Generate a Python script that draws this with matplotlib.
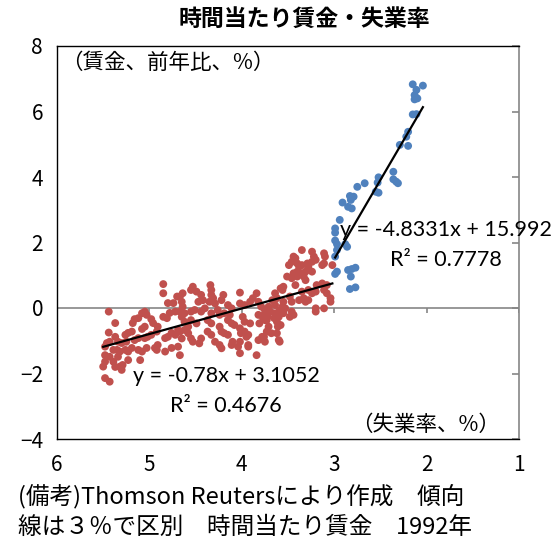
import matplotlib
matplotlib.use("Agg")
import numpy as np
import matplotlib.pyplot as plt

plt.rcParams['font.family'] = ['Noto Sans CJK JP', 'DejaVu Sans']

# unemployment rate (%) / hourly wage growth (% y/y)
# red: unemployment >= 3%
red_u1 = [4.85, 4.85, 4.70, 5.44, 5.05, 5.08, 5.03, 5.12, 5.16, 5.37, 5.18, 4.98, 4.96,
          4.85, 4.81, 4.78, 4.74, 4.80, 4.72, 4.91, 4.92, 5.05, 5.08, 5.19, 5.23, 5.26,
          5.44, 5.43, 5.46, 5.48, 5.37, 5.34, 5.30, 5.25, 5.16, 5.12, 5.05, 5.02, 4.98,
          4.83, 4.80, 4.76, 4.72, 4.69, 5.39, 5.35, 5.32, 5.26, 5.23, 5.19, 5.12, 5.08,
          5.03, 4.94, 4.91, 4.92, 4.83, 4.76, 4.69, 5.48, 5.43, 5.34, 5.23, 5.10, 5.48,
          5.39, 5.29, 5.32, 5.37, 5.50, 5.30, 5.48, 5.43]
red_w1 = [0.73, 0.45, 0.35, -0.11, -0.11, -0.16, -0.21, -0.31, -0.34, -0.46, -0.46, -0.34, -0.46,
          -0.27, -0.31, -0.15, 0.15, 0.15, -0.11, -0.57, -0.72, -0.57, -0.64, -0.72, -0.76, -0.82,
          -0.75, -1.03, -1.07, -1.18, -0.88, -1.03, -1.07, -1.03, -0.98, -0.92, -0.92, -0.88, -0.82,
          -0.92, -0.88, -0.76, -0.82, -0.67, -1.28, -1.28, -1.33, -1.28, -1.33, -1.22, -1.28, -1.33,
          -1.22, -1.22, -1.13, -1.28, -1.33, -1.22, -1.18, -1.44, -1.49, -1.49, -1.59, -1.59, -1.64,
          -1.64, -1.74, -1.79, -1.80, -1.79, -1.89, -2.14, -2.25]

red_u2 = [4.53, 4.55, 4.64, 4.67, 4.65, 4.49, 4.44, 4.42, 4.47, 4.33, 4.35, 4.29, 4.31,
          4.20, 4.22, 4.02, 4.40, 4.44, 4.51, 4.55, 4.64, 4.67, 4.62, 4.65, 4.26, 4.15,
          4.11, 4.02, 3.97, 3.91, 3.82, 3.79, 4.33, 4.24, 4.19, 4.13, 4.62, 4.55, 4.49,
          4.58, 4.37, 4.33, 4.15, 4.11, 4.08, 3.99, 3.97, 3.91, 3.82, 3.77, 3.81, 4.67,
          4.62, 4.58, 4.37, 4.33, 4.24, 4.22, 4.19, 4.15, 4.02, 4.01, 3.97, 3.93, 3.95,
          4.65, 4.55, 4.53, 4.44, 4.46, 4.29, 4.24, 4.11, 4.10, 4.02, 3.93, 3.82, 4.22,
          4.02, 3.84, 4.67]
red_w2 = [0.65, 0.55, 0.45, 0.35, 0.19, 0.50, 0.40, 0.24, 0.19, 0.40, 0.19, 0.14, 0.30,
          0.40, 0.24, 0.47, -0.01, -0.11, -0.06, -0.11, 0.04, -0.11, -0.16, -0.27, -0.06, 0.09,
          -0.01, 0.14, 0.09, 0.19, 0.19, 0.04, -0.16, -0.21, -0.16, -0.21, -0.42, -0.37, -0.47,
          -0.57, -0.37, -0.47, -0.37, -0.47, -0.52, -0.27, -0.42, -0.47, -0.21, -0.31, -0.47, -0.72,
          -0.67, -0.77, -0.72, -0.82, -0.57, -0.72, -0.77, -0.82, -0.62, -0.77, -0.72, -0.82, -0.88,
          -0.93, -0.93, -1.03, -0.93, -1.08, -1.03, -1.13, -1.13, -1.03, -1.03, -1.13, -0.98, -1.23,
          -1.38, -1.44, -1.44]

red_u3 = [3.35, 3.24, 3.22, 3.11, 3.10, 3.44, 3.46, 3.40, 3.42, 3.49, 3.38, 3.35, 3.29,
          3.28, 3.24, 3.20, 3.13, 3.11, 3.40, 3.44, 3.35, 3.31, 3.24, 3.02, 3.51, 3.46,
          3.40, 3.33, 3.31, 3.42, 3.55, 3.58, 3.56, 3.19, 3.13, 3.08, 3.35, 3.28, 3.24,
          3.20, 3.11, 3.08, 3.04, 3.04, 3.64, 3.62, 3.67, 3.48, 3.46, 3.38, 3.33, 3.31,
          3.28, 3.55, 3.56, 3.53, 3.71, 3.75, 3.69, 3.20, 3.11, 3.20, 3.46, 3.44, 3.48,
          3.64, 3.60, 3.65, 3.76, 3.73, 3.71, 3.62, 3.58, 3.73, 3.62, 3.76, 3.60]
red_w3 = [1.77, 1.72, 1.57, 1.67, 1.57, 1.57, 1.41, 1.36, 1.52, 1.31, 1.26, 1.31, 1.36,
          1.26, 1.41, 1.47, 1.31, 1.36, 1.11, 1.06, 1.06, 1.11, 1.11, 1.31, 0.96, 0.91,
          0.96, 0.96, 0.85, 0.70, 0.65, 0.60, 0.55, 0.70, 0.75, 0.70, 0.50, 0.55, 0.45,
          0.50, 0.55, 0.45, 0.30, 0.19, 0.45, 0.30, 0.24, 0.35, 0.19, 0.24, 0.30, 0.19,
          0.24, 0.19, 0.04, -0.01, 0.04, -0.06, -0.11, -0.01, -0.01, -0.11, -0.11, -0.21, -0.27,
          -0.16, -0.27, -0.31, -0.21, -0.37, -0.57, -0.42, -0.52, -0.72, -0.77, -0.88, -0.98]

red_u4 = [4.34, 4.33, 3.84, 3.88, 3.64, 3.59, 3.55, 3.75, 3.72, 3.61, 3.68, 3.78, 3.75, 3.59, 4.04, 3.93]
red_w4 = [0.70, 0.55, 0.45, 0.30, 0.09, -0.06, -0.16, -0.37, -0.27, -0.57, -0.77, -0.88, -1.03, -1.03, -1.18, -1.18]

# blue: unemployment < 3%
blue_u = [2.15, 2.04, 2.11, 2.13, 2.10, 2.13, 2.15, 2.11, 2.20, 2.22, 2.29, 2.20, 2.36,
          2.36, 2.33, 2.31, 2.52, 2.53, 2.55, 2.52, 2.67, 2.75, 2.79, 2.83, 2.82, 2.91,
          2.85, 2.81, 2.94, 2.99, 2.99, 2.99, 2.97, 2.88, 2.86, 2.97, 2.99, 2.97, 2.99,
          2.85, 2.81, 2.77, 2.82, 2.83, 2.77]
blue_w = [6.83, 6.79, 6.66, 6.50, 6.40, 6.37, 5.91, 5.92, 5.38, 5.23, 4.98, 4.95, 4.16,
          3.93, 3.86, 3.81, 3.99, 3.83, 3.55, 3.52, 3.81, 3.70, 3.40, 3.42, 3.30, 3.22,
          3.09, 3.04, 2.69, 2.43, 2.30, 2.06, 1.95, 1.95, 1.87, 1.77, 1.57, 1.11, 1.04,
          1.16, 1.19, 1.23, 0.96, 0.58, 0.63]

# trend line coefficients as printed on the chart
red_fit = (-0.78, 3.1052, 0.4676)
blue_fit = (-4.8331, 15.992, 0.7778)

x_ticks = [6, 5, 4, 3, 2, 1]
y_ticks = [-4, -2, 0, 2, 4, 6, 8]

RED = '#C0504D'
BLUE = '#4F81BD'
GRAY = '#868686'

red_u = np.array(red_u1 + red_u2 + red_u3 + red_u4)
red_w = np.array(red_w1 + red_w2 + red_w3 + red_w4)
blue_u = np.array(blue_u)
blue_w = np.array(blue_w)

fig = plt.figure(figsize=(5.56, 5.46), dpi=100)
ax = fig.add_axes([57 / 556, 1 - 439 / 546, 462 / 556, 393 / 546])

ax.set_xlim(6, 1)
ax.set_ylim(-4, 8)

# zero line with its little ticks
ax.axhline(0, color=GRAY, lw=1.2, zorder=1)
ax.vlines(x_ticks, 0, -0.15, colors=GRAY, lw=1.2, zorder=1)

ax.scatter(red_u, red_w, s=32, color=RED, edgecolors='none', zorder=3)
ax.scatter(blue_u, blue_w, s=32, color=BLUE, edgecolors='none', zorder=3)

for u, fit in [(red_u, red_fit), (blue_u, blue_fit)]:
    xs = np.array([u.min(), u.max()])
    ax.plot(xs, fit[0] * xs + fit[1], color='black', lw=1.6, zorder=4)

eq_font = dict(family=['Lato', 'DejaVu Sans'], fontsize=15.5, ha='center', va='center',
               linespacing=1.6, zorder=5)
ax.text(1.79, 1.92, "y = %.4fx + %.3f\nR² = %.4f" % blue_fit, **eq_font)
ax.text(4.17, -2.53, "y = %.2fx + %.4f\nR² = %.4f" % red_fit, **eq_font)

ax.set_xticks(x_ticks)
ax.set_yticks(y_ticks)
ax.tick_params(axis='x', bottom=False, labelsize=15, pad=7)
ax.tick_params(axis='y', left=False, right=True, direction='in', length=5,
               color=GRAY, width=1.2, labelsize=15, pad=10)

for side in ['top', 'left', 'bottom']:
    ax.spines[side].set_color('black')
    ax.spines[side].set_linewidth(1.0)
ax.spines['right'].set_color(GRAY)
ax.spines['right'].set_linewidth(1.2)

ax.text(0.008, 0.957, "（賃金、前年比、%）", transform=ax.transAxes,
        fontsize=15.5, ha='left', va='center')
ax.text(0.959, 0.036, "（失業率、%）", transform=ax.transAxes,
        fontsize=15.5, ha='right', va='center')

fig.text(304 / 556, 1 - 19 / 546, "時間当たり賃金・失業率", fontsize=16.5,
         fontweight='bold', ha='center', va='center')

fig.text(18 / 556, 1 - 497 / 546, "(備考)Thomson Reutersにより作成　傾向",
         fontsize=17, ha='left', va='center')
fig.text(18 / 556, 1 - 527 / 546, "線は３％で区別　時間当たり賃金　1992年",
         fontsize=17, ha='left', va='center')

fig.savefig("out.png", dpi=100)
